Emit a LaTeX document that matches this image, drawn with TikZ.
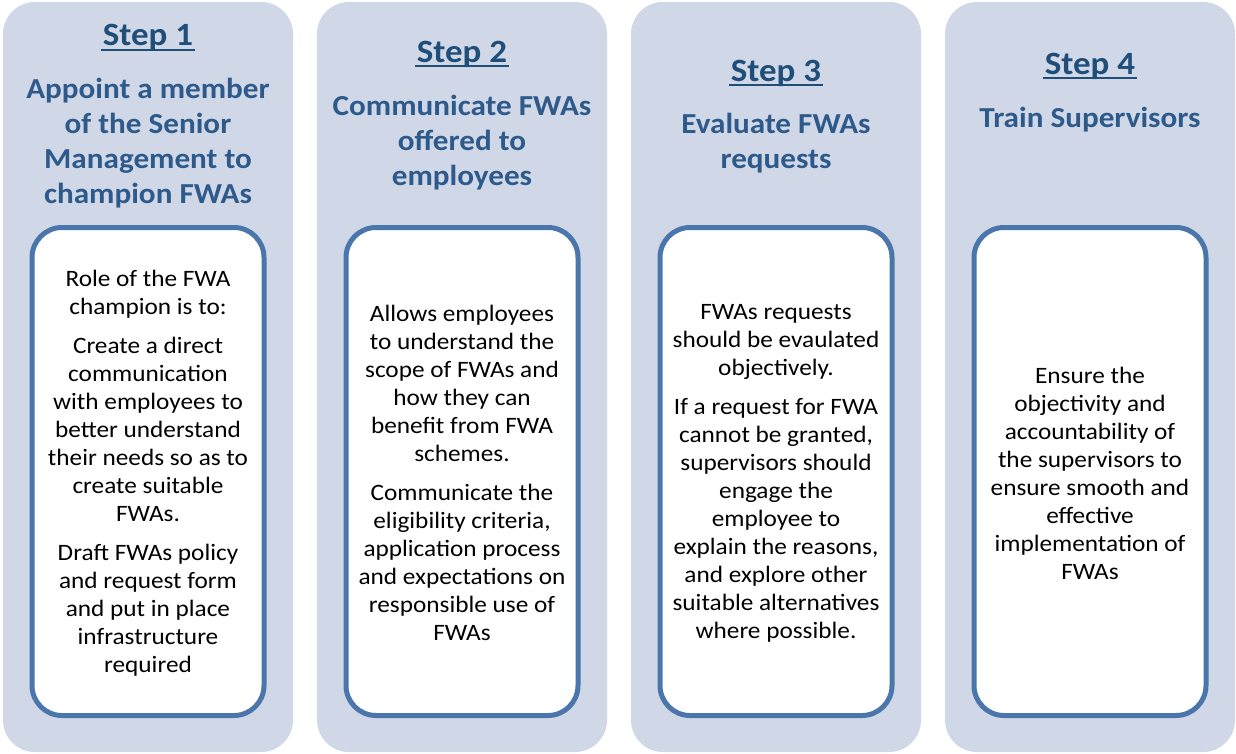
\documentclass[tikz,border=0pt]{standalone}
\usepackage{fontspec}
\setmainfont{Carlito}[FakeStretch=1.075]
\begin{document}
\begin{tikzpicture}[x=1pt,y=-1pt,
  panel/.style={fill=panelfill, rounded corners=32pt},
  card/.style={draw=cardline, line width=5pt, fill=white, rounded corners=30pt},
  steptitle/.style={anchor=base, text=titleblue, font=\bfseries\fontsize{32.5}{38}\selectfont, inner sep=0pt},
  stepline/.style={draw=titleblue, line width=2pt},
  stepgoal/.style={anchor=base, text=goalblue, font=\bfseries\fontsize{29}{35}\selectfont, align=center, inner sep=0pt},
  cardtext/.style={anchor=center, text=black, font=\fontsize{23.5}{28}\selectfont, align=center, inner sep=0pt}
]
\definecolor{panelfill}{HTML}{D0D8E8}
\definecolor{cardline}{HTML}{4A76AC}
\definecolor{titleblue}{HTML}{1F4E79}
\definecolor{goalblue}{HTML}{2E5A8B}

\useasboundingbox (0,0) rectangle (1236,753);

% background panels with their white cards
\foreach \cx in {148, 462, 776, 1090}{
  \fill[panel] (\cx-145,2) rectangle (\cx+145,752);
  \draw[card] (\cx-116,227.5) rectangle (\cx+116,715.5);
}

% step titles, underlined through the descenders
\node[steptitle] (s1) at (148,45.5) {Step 1};
\node[steptitle] (s2) at (462,62) {Step 2};
\node[steptitle] (s3) at (776,81) {Step 3};
\node[steptitle] (s4) at (1090,74) {Step 4};
\foreach \s in {s1,s2,s3,s4}{
  \draw[stepline] ([xshift=-2pt,yshift=-4pt]\s.base west) -- ([xshift=2pt,yshift=-4pt]\s.base east);
}

% step goals (base anchor sits on the last line)
\node[stepgoal] (g1) at (148,203) {Appoint a member\\of the Senior\\Management to\\champion FWAs};
\node[stepgoal] (g2) at (462,185) {Communicate FWAs\\offered to\\employees};
\node[stepgoal] (g3) at (776,168) {Evaluate FWAs\\requests};
\node[stepgoal] (g4) at (1090,127) {Train Supervisors};

% card contents
\node[cardtext] (c1) at (148,473) {Role of the FWA\\champion is to:\\[11pt]
Create a direct\\communication\\with employees to\\better understand\\their needs so as to\\create suitable\\FWAs.\\[11pt]
Draft FWAs policy\\and request form\\and put in place\\infrastructure\\required};
\node[cardtext] (c2) at (462,473) {Allows employees\\to understand the\\scope of FWAs and\\how they can\\benefit from FWA\\schemes.\\[11pt]
Communicate the\\eligibility criteria,\\application process\\and expectations on\\responsible use of\\FWAs};
\node[cardtext] (c3) at (776,473) {FWAs requests\\should be evaulated\\objectively.\\[11pt]
If a request for FWA\\cannot be granted,\\supervisors should\\engage the\\employee to\\explain the reasons,\\and explore other\\suitable alternatives\\where possible.};
\node[cardtext] (c4) at (1090,473) {Ensure the\\objectivity and\\accountability of\\the supervisors to\\ensure smooth and\\effective\\implementation of\\FWAs};
\end{tikzpicture}
\end{document}
